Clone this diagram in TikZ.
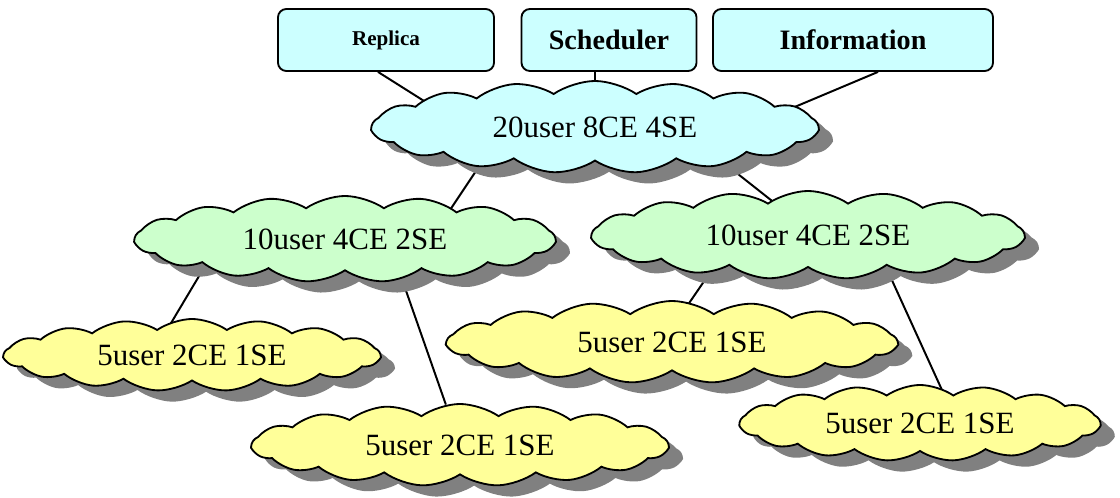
\documentclass[tikz,border=0pt]{standalone}
\usepackage{fontspec}
\setmainfont{Liberation Serif}
\usepackage{tikz}
\usetikzlibrary{shapes.symbols,shadows,calc,backgrounds}

\definecolor{topCyan}{HTML}{CCFFFF}
\definecolor{midGreen}{HTML}{CCFFCC}
\definecolor{lowYellow}{HTML}{FFFF99}

\begin{document}
\begin{tikzpicture}[
  x=0.025cm, y=-0.025cm,
  serviceBox/.style={rectangle, rounded corners=6pt, draw, line width=1.3pt,
                     fill=topCyan, minimum height=1.55cm, inner sep=0pt,
                     font=\fontsize{20}{24}\selectfont\bfseries},
  gridCloud/.style={cloud, cloud puffs=17, cloud puff arc=70,
                    cloud ignores aspect, draw, line width=1.3pt, inner sep=0pt,
                    font=\fontsize{22}{26}\selectfont,
                    drop shadow={shadow xshift=10pt, shadow yshift=-8pt,
                                 fill=black!50, opacity=1}},
  topGrid/.style={fill=topCyan},
  midGrid/.style={fill=midGreen},
  lowGrid/.style={fill=lowYellow},
  link/.style={line width=1.4pt}
]
  \useasboundingbox (0,0) rectangle (1120,498);

  % === Services on top ===
  \node[serviceBox, minimum width=5.4cm, font=\fontsize{15}{18}\selectfont\bfseries]
    (replica) at (386,40) {Replica};
  \node[serviceBox, minimum width=4.375cm] (scheduler) at (609,40) {Scheduler};
  \node[serviceBox, minimum width=7cm] (information) at (853,40) {Information};

  % === Whole grid ===
  \node[gridCloud, topGrid, minimum width=11.15cm, minimum height=2.3cm]
    (top) at (595,127) {20user 8CE 4SE};

  % === Two halves ===
  \node[gridCloud, midGrid, minimum width=10.5cm, minimum height=2.15cm]
    (leftMid) at (345,239) {10user 4CE 2SE};
  \node[gridCloud, midGrid, minimum width=10.8cm, minimum height=2.2cm]
    (rightMid) at (808,235) {10user 4CE 2SE};

  % === Four quarters ===
  \node[gridCloud, lowGrid, minimum width=9.4cm, minimum height=1.8cm]
    (lowA) at (192,355) {5user 2CE 1SE};
  \node[gridCloud, lowGrid, minimum width=10.4cm, minimum height=2.05cm]
    (lowB) at (460,445) {5user 2CE 1SE};
  \node[gridCloud, lowGrid, minimum width=11.25cm, minimum height=2.05cm]
    (lowC) at (672,342) {5user 2CE 1SE};
  \node[gridCloud, lowGrid, minimum width=9cm, minimum height=1.9cm]
    (lowD) at (920,423) {5user 2CE 1SE};

  % links run under the clouds
  \begin{scope}[on background layer]
    \draw[link] ($(replica.south)+(-8,0)$) -- ($(top)+(-125,3)$);
    \draw[link] (scheduler.south -| top) -- (top);
    \draw[link] ($(information.south)+(25,0)$) -- ($(top)+(145,3)$);
    \draw[link] ($(top)+(-105,23)$) -- ($(leftMid)+(85,1)$);
    \draw[link] ($(top)+(110,21)$) -- ($(rightMid)+(-8,-12)$);
    \draw[link] ($(leftMid)+(-131,12)$) -- ($(lowA)+(-40,0)$);
    \draw[link] ($(leftMid)+(45,6)$) -- (lowB);
    \draw[link] ($(rightMid)+(-88,23)$) -- ($(lowC)+(-2,-11)$);
    \draw[link] ($(rightMid)+(67,8)$) -- ($(lowD)+(37,0)$);
  \end{scope}
\end{tikzpicture}
\end{document}
